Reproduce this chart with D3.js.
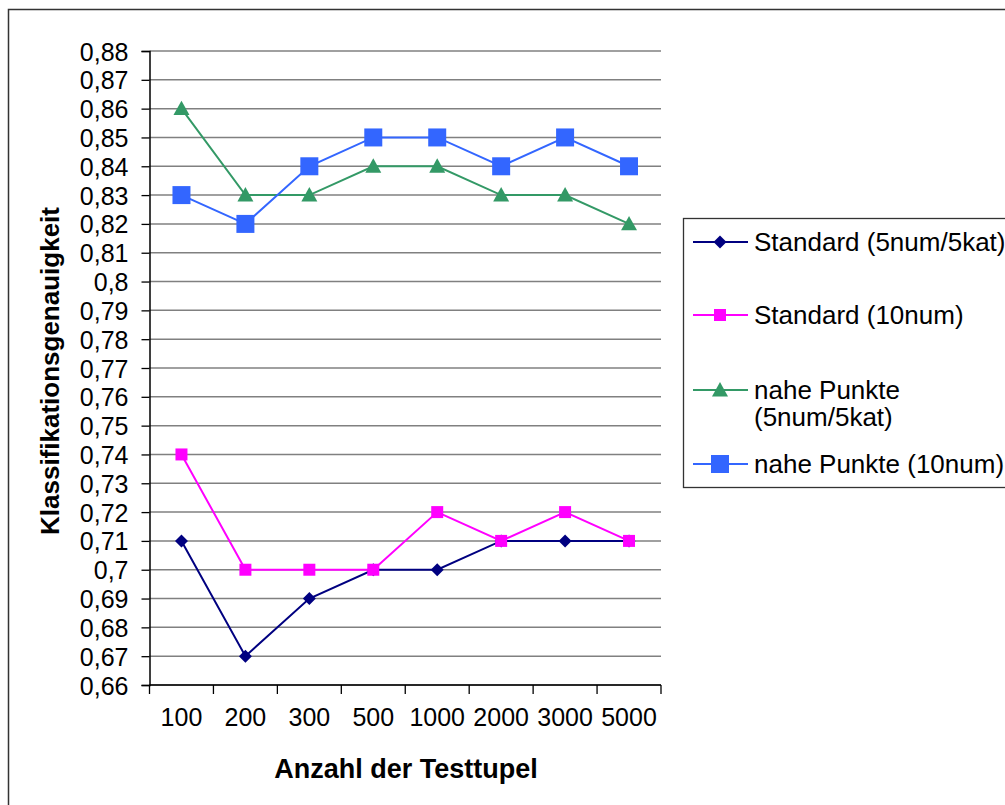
<!DOCTYPE html>
<html>
<head>
<meta charset="utf-8">
<script src="https://cdn.jsdelivr.net/npm/d3@7"></script>
<style>
body { margin: 0; background: #fff; }
text { font-family: "Liberation Sans", Arial, sans-serif; }
</style>
</head>
<body>
<svg id="svg1" width="1005" height="805"></svg>
<script>
var categories = ["100", "200", "300", "500", "1000", "2000", "3000", "5000"];
var yTicks = [0.66,0.67,0.68,0.69,0.70,0.71,0.72,0.73,0.74,0.75,0.76,0.77,0.78,0.79,0.80,0.81,0.82,0.83,0.84,0.85,0.86,0.87,0.88];
var standard5 = [0.71, 0.67, 0.69, 0.70, 0.70, 0.71, 0.71, 0.71];
var standard10 = [0.74, 0.70, 0.70, 0.70, 0.72, 0.71, 0.72, 0.71];
var nahe5 = [0.86, 0.83, 0.83, 0.84, 0.84, 0.83, 0.83, 0.82];
var nahe10 = [0.83, 0.82, 0.84, 0.85, 0.85, 0.84, 0.85, 0.84];
var seriesNames = ["Standard (5num/5kat)", "Standard (10num)", "nahe Punkte (5num/5kat)", "nahe Punkte (10num)"];

var series = [
	{name: seriesNames[0], values: standard5, color: "#000080", shape: "diamond", size: 13},
	{name: seriesNames[1], values: standard10, color: "#ff00ff", shape: "square", size: 12},
	{name: seriesNames[2], values: nahe5, color: "#339966", shape: "triangle", size: 16},
	{name: seriesNames[3], values: nahe10, color: "#3366ff", shape: "square", size: 18}
];

var svg = d3.select("#svg1");

// outer frame
svg.append("rect")
	.attr("x", 8.5).attr("y", 9.5)
	.attr("width", 1010).attr("height", 810)
	.attr("fill", "#fff")
	.attr("stroke", "#333").attr("stroke-width", 1.5);

var plotLeft = 149.5, plotTop = 51, plotRight = 661, plotBottom = 685;

var x = d3.scaleBand().domain(categories).range([plotLeft, plotRight]);
var y = d3.scaleLinear().domain([0.66, 0.88]).range([plotBottom, plotTop]);

// gridlines
svg.append("g").selectAll("line")
	.data(yTicks)
	.enter().append("line")
	.attr("x1", plotLeft).attr("x2", plotRight)
	.attr("y1", function(d){ return y(d); })
	.attr("y2", function(d){ return y(d); })
	.attr("stroke", "#808080").attr("stroke-width", 1.5);

// y axis
var fmt = function(d){ return (+d.toFixed(2)).toString().replace(".", ","); };
var yAxis = svg.append("g")
	.attr("transform", "translate(" + plotLeft + ",0)")
	.call(d3.axisLeft(y).tickValues(yTicks).tickFormat(fmt).tickSize(8).tickPadding(13));
yAxis.select(".domain").attr("stroke", "#000").attr("stroke-width", 1.5);
yAxis.selectAll(".tick line").attr("stroke", "#000").attr("stroke-width", 1.3);
yAxis.selectAll("text").style("font-size", "25px").attr("fill", "#000").attr("dy", "0.36em");

// x axis
var xAxis = svg.append("g")
	.attr("transform", "translate(0," + plotBottom + ")");
xAxis.append("line")
	.attr("x1", plotLeft).attr("x2", plotRight).attr("y1", 0).attr("y2", 0)
	.attr("stroke", "#000").attr("stroke-width", 1.5);
var bounds = categories.map(function(c){ return x(c); }).concat([plotRight]);
xAxis.selectAll(".xt")
	.data(bounds)
	.enter().append("line")
	.attr("x1", function(d){ return d; })
	.attr("x2", function(d){ return d; })
	.attr("y1", 0).attr("y2", 9)
	.attr("stroke", "#000").attr("stroke-width", 1.3);
xAxis.selectAll(".xl")
	.data(categories)
	.enter().append("text")
	.attr("x", function(d){ return x(d) + x.bandwidth() / 2; })
	.attr("y", 41)
	.attr("text-anchor", "middle")
	.style("font-size", "25px")
	.text(function(d){ return d; });

// axis titles
svg.append("text")
	.attr("x", 406).attr("y", 778)
	.attr("text-anchor", "middle")
	.style("font-size", "27px").attr("font-weight", "bold")
	.text("Anzahl der Testtupel");
svg.append("text")
	.attr("transform", "translate(59,371) rotate(-90)")
	.attr("text-anchor", "middle")
	.style("font-size", "26px").attr("font-weight", "bold")
	.text("Klassifikationsgenauigkeit");

var symbolPath = function(shape, size) {
	var s = size / 2;
	if (shape == "diamond") return "M0," + (-s) + "L" + s + ",0L0," + s + "L" + (-s) + ",0Z";
	if (shape == "triangle") return "M0," + (-s) + "L" + s + "," + (s * 0.8) + "L" + (-s) + "," + (s * 0.8) + "Z";
	return "M" + (-s) + "," + (-s) + "H" + s + "V" + s + "H" + (-s) + "Z";
};

var line = d3.line()
	.x(function(d, i){ return x(categories[i]) + x.bandwidth() / 2; })
	.y(function(d){ return y(d); });

series.forEach(function(s) {
	svg.append("path")
		.attr("d", line(s.values))
		.attr("fill", "none")
		.attr("stroke", s.color).attr("stroke-width", 2);
	svg.append("g").selectAll("path")
		.data(s.values)
		.enter().append("path")
		.attr("transform", function(d, i){ return "translate(" + (x(categories[i]) + x.bandwidth() / 2) + "," + y(d) + ")"; })
		.attr("d", symbolPath(s.shape, s.size))
		.attr("fill", s.color);
});

// legend
var legend = svg.append("g");
legend.append("rect")
	.attr("x", 683.5).attr("y", 218.5)
	.attr("width", 340).attr("height", 269)
	.attr("fill", "#fff").attr("stroke", "#333").attr("stroke-width", 1.3);
var legendY = [242, 315, 390, 464];
series.forEach(function(s, i) {
	var g = legend.append("g").attr("transform", "translate(0," + legendY[i] + ")");
	g.append("line")
		.attr("x1", 693).attr("x2", 748).attr("y1", 0).attr("y2", 0)
		.attr("stroke", s.color).attr("stroke-width", 2);
	g.append("path")
		.attr("transform", "translate(720,0)")
		.attr("d", symbolPath(s.shape, s.size))
		.attr("fill", s.color);
	var t = g.append("text")
		.attr("x", 754).attr("y", 9)
		.style("font-size", "26px");
	if (i == 2) {
		t.append("tspan").attr("x", 754).attr("dy", 0).text("nahe Punkte");
		t.append("tspan").attr("x", 754).attr("dy", 27).text("(5num/5kat)");
	} else {
		t.text(s.name);
	}
});
</script>
</body>
</html>
